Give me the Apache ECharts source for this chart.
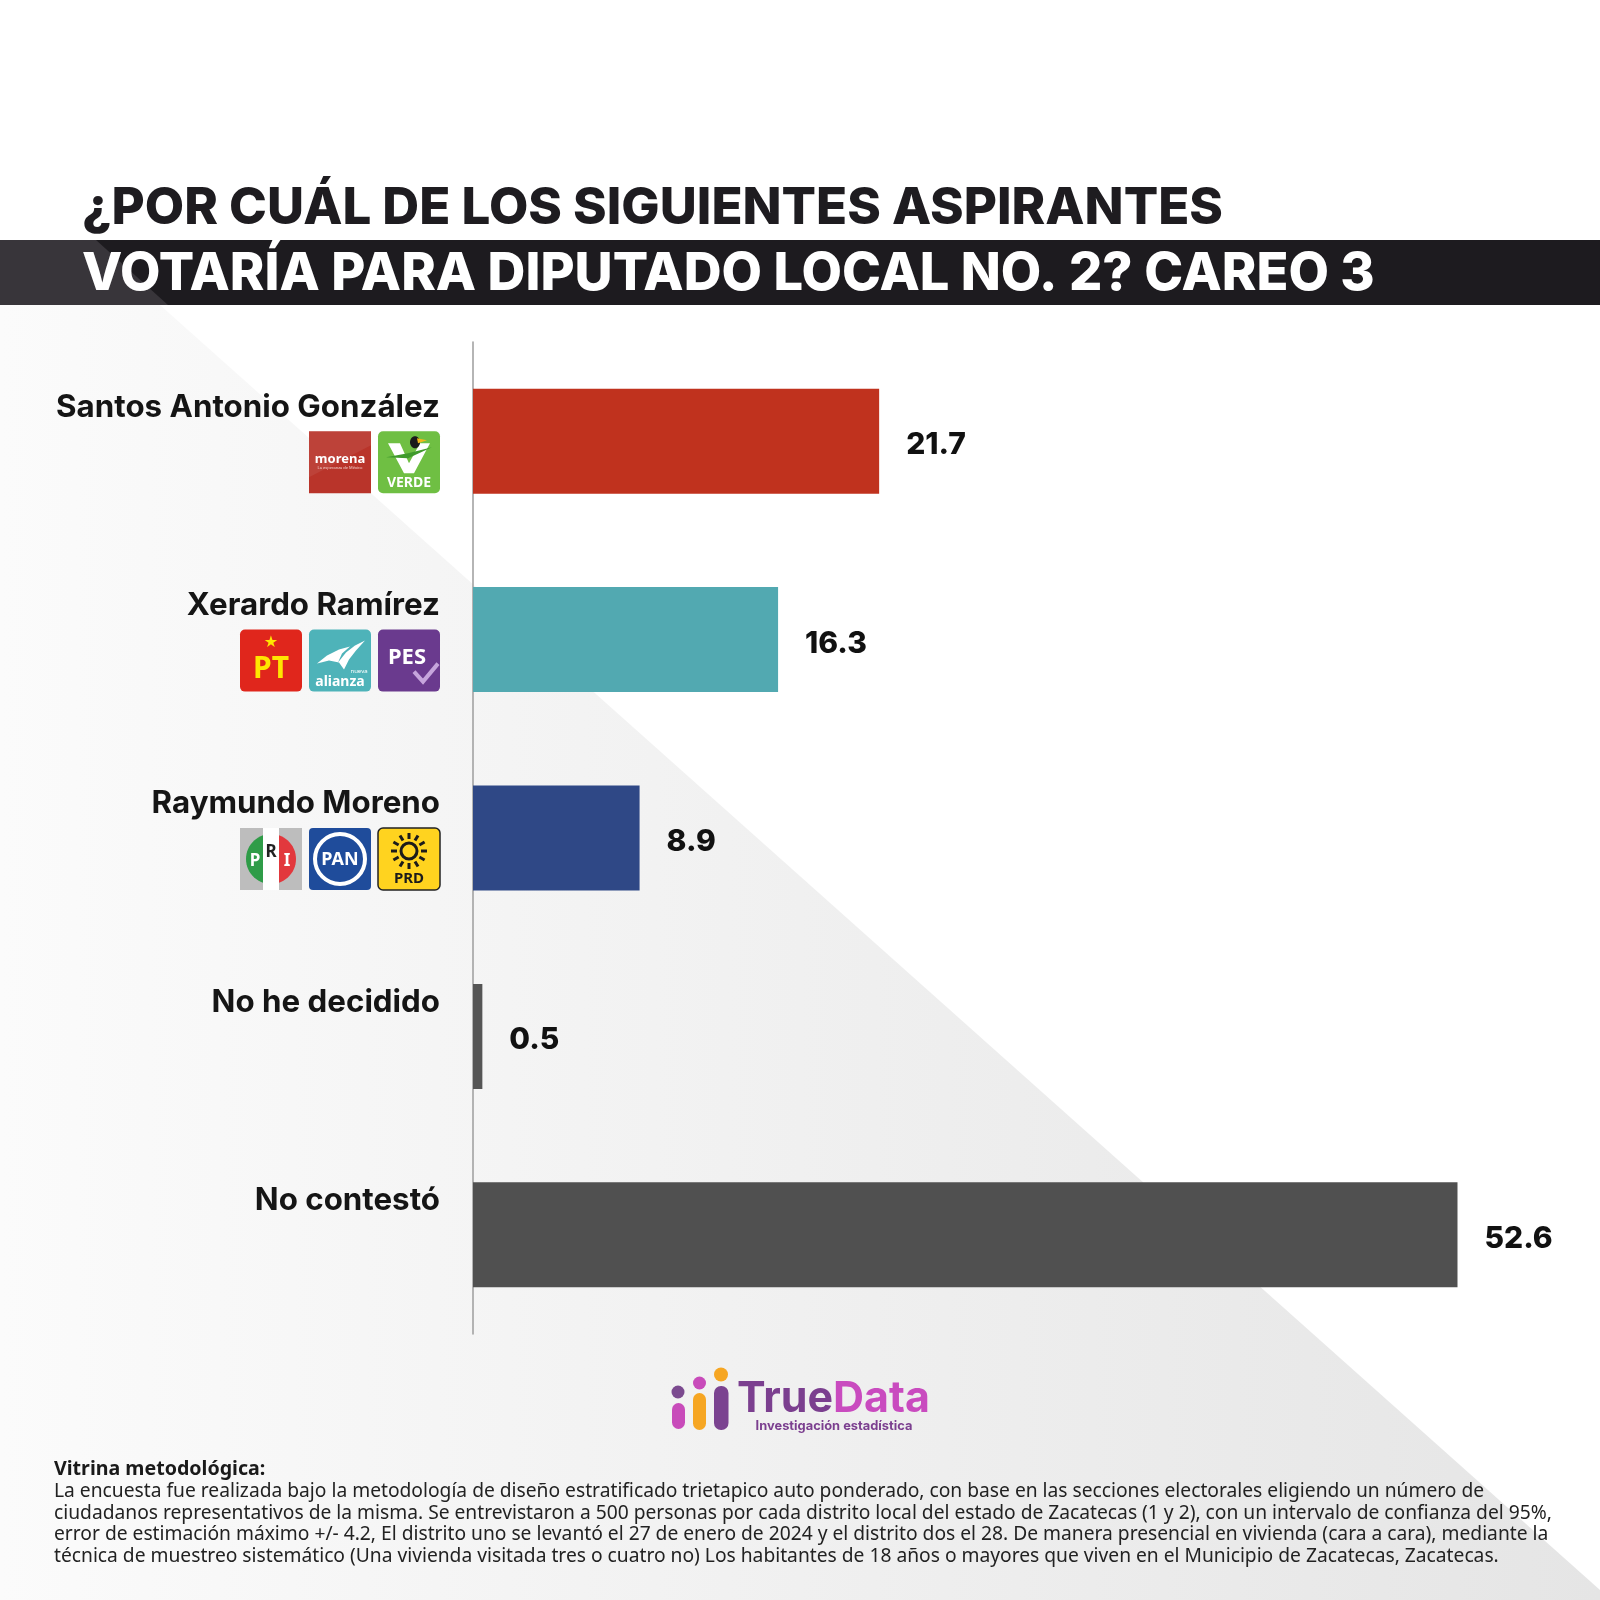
<!DOCTYPE html>
<html><head><meta charset="utf-8">
<script src="https://cdn.jsdelivr.net/npm/echarts/dist/echarts.min.js"></script>
<style>html,body{margin:0;padding:0;background:#fff}#c{width:1600px;height:1600px}</style>
</head><body><div id="c"></div>
<script>
// ---------- data ----------
const titleLines = ['¿POR CUÁL DE LOS SIGUIENTES ASPIRANTES', 'VOTARÍA PARA DIPUTADO LOCAL NO. 2? CAREO 3'];
const categories = ['Santos Antonio González', 'Xerardo Ramírez', 'Raymundo Moreno', 'No he decidido', 'No contestó'];
const values = [21.7, 16.3, 8.9, 0.5, 52.6];
const barColors = ['#c0321e', '#52a9b1', '#2f4886', '#555555', '#505050'];
const parties = [['morena', 'verde'], ['pt', 'alianza', 'pes'], ['pri', 'pan', 'prd'], [], []];
const brandA = 'True', brandB = 'Data', brandSub = 'Investigación estadística';
const footerTitle = 'Vitrina metodológica:';
const footerLines = [
  'La encuesta fue realizada bajo la metodología de diseño estratificado trietapico auto ponderado, con base en las secciones electorales eligiendo un número de',
  'ciudadanos representativos de la misma. Se entrevistaron a 500 personas por cada distrito local del estado de Zacatecas (1 y 2), con un intervalo de confianza del 95%,',
  'error de estimación máximo +/- 4.2, El distrito uno se levantó el 27 de enero de 2024 y el distrito dos el 28. De manera presencial en vivienda (cara a cara), mediante la',
  'técnica de muestreo sistemático (Una vivienda visitada tres o cuatro no) Los habitantes de 18 años o mayores que viven en el Municipio de Zacatecas, Zacatecas.'
];

// ---------- helpers ----------
const HEAD = 'Inter, "Noto Sans", sans-serif';
const BODY = '"Noto Sans", "Open Sans", sans-serif';
const mctx = document.createElement('canvas').getContext('2d');
function fit(text, weight, family, target) {
  mctx.font = weight + ' 100px ' + family;
  return 100 * target / mctx.measureText(text).width;
}
function txt(text, x, y, font, fill, align, extra) {
  return Object.assign({ type: 'text', silent: true, style: {
    text: text, x: x, y: y, font: font, fill: fill,
    align: align || 'left', textAlign: align || 'left',
    verticalAlign: 'middle', textVerticalAlign: 'middle'
  } }, extra || {});
}

const nameSize = fit(categories[0], 700, HEAD, 384);
const t1Size = fit(titleLines[0], 800, HEAD, 1141);
const t2Size = fit(titleLines[1], 800, HEAD, 1293);

const chart = echarts.init(document.getElementById('c'));
const option = {
  backgroundColor: '#ffffff',
  animation: false,
  grid: { left: 473, right: 4, top: 342, height: 992 },
  xAxis: { type: 'value', min: 0, max: 60, show: false },
  yAxis: {
    type: 'category', data: categories, inverse: true,
    axisTick: { show: false },
    axisLine: { show: true, lineStyle: { color: '#9c9c9c', width: 1.5 } },
    axisLabel: {
      interval: 0, margin: 33,
      formatter: function (v) { return '{n|' + v + '}\n{s| }'; },
      rich: {
        n: { fontSize: nameSize, fontWeight: 700, fontFamily: HEAD, color: '#151515', lineHeight: 36, align: 'right' },
        s: { height: 68, lineHeight: 68, fontSize: 10 }
      }
    }
  },
  series: [{
    type: 'bar', barWidth: 105,
    data: values.map(function (v, i) { return { value: v, itemStyle: { color: barColors[i] } }; }),
    label: { show: true, position: 'right', distance: 27, offset: [0, 4], fontSize: 30, fontWeight: 800, fontFamily: HEAD, color: '#111111' }
  }]
};
chart.setOption(option);

// ---------- logos ----------
function segPoints(side) {
  const pts = [], cx = 31, cy = 31, r = 25, d = 8;
  const a0 = Math.acos(d / r);
  for (let k = 0; k <= 24; k++) {
    const a = -a0 + (2 * a0) * k / 24;
    const xx = side === 'L' ? cx - r * Math.cos(a) : cx + r * Math.cos(a);
    pts.push([xx, cy + r * Math.sin(a)]);
  }
  return pts;
}
function makeLogo(kind, x, y) {
  const S = 62, ch = [];
  const rect = function (fill, r, extra) { return Object.assign({ type: 'rect', shape: { x: 0, y: 0, width: S, height: S, r: r }, style: { fill: fill } }, extra || {}); };
  if (kind === 'morena') {
    ch.push(rect('#b9342a', 0));
    ch.push({ type: 'polygon', shape: { points: [[0, 0], [62, 0], [62, 14], [0, 46]] }, style: { fill: 'rgba(255,255,255,0.07)' } });
    ch.push(txt('morena', 31, 28, 'bold 13px ' + BODY, '#ffffff', 'center'));
    ch.push(txt('La esperanza de México', 31, 37, '4px ' + BODY, '#f4d2cd', 'center'));
  } else if (kind === 'verde') {
    ch.push(rect('#6fbf43', 5));
    ch.push({ type: 'polygon', shape: { points: [[10, 12], [22, 12], [31, 32], [42, 12], [52, 12], [36, 42], [26, 42]] }, style: { fill: '#ffffff' } });
    ch.push({ type: 'polygon', shape: { points: [[8, 26], [30, 22], [54, 16], [30, 27]] }, style: { fill: '#3f9a2c' } });
    ch.push({ type: 'ellipse', shape: { cx: 37, cy: 11, rx: 5, ry: 6 }, style: { fill: '#1b1b1b' } });
    ch.push({ type: 'polygon', shape: { points: [[39, 7], [49, 9], [40, 12]] }, style: { fill: '#f2b81c' } });
    ch.push(txt('VERDE', 31, 52, 'bold 14px ' + BODY, '#ffffff', 'center'));
  } else if (kind === 'pt') {
    ch.push(rect('#e0261c', 5));
    ch.push(txt('★', 31, 13, '16px "DejaVu Sans"', '#ffe600', 'center'));
    ch.push(txt('PT', 31, 40, 'bold 30px ' + BODY, '#ffe600', 'center'));
  } else if (kind === 'alianza') {
    ch.push(rect('#4eb3b9', 5));
    ch.push({ type: 'polygon', shape: { points: [[8, 34], [18, 26], [30, 20], [41, 17], [33, 24], [29, 33], [37, 23], [46, 16], [56, 11], [47, 21], [40, 30], [35, 40], [30, 33], [20, 31]] }, style: { fill: '#ffffff' } });
    ch.push(txt('nueva', 50, 42, '6px ' + BODY, '#ffffff', 'center'));
    ch.push(txt('alianza', 31, 52, 'bold 14px ' + BODY, '#ffffff', 'center'));
  } else if (kind === 'pes') {
    ch.push(rect('#6a3a8e', 5));
    ch.push(txt('PES', 29, 28, 'bold 22px ' + BODY, '#ffffff', 'center'));
    ch.push({ type: 'polyline', shape: { points: [[36, 42], [45, 52], [60, 34]] }, style: { stroke: '#c6a5dc', lineWidth: 4, fill: null } });
  } else if (kind === 'pri') {
    ch.push(rect('#bdbdbd', 0));
    ch.push({ type: 'rect', shape: { x: 23, y: 0, width: 16, height: S }, style: { fill: '#ffffff' } });
    ch.push({ type: 'polygon', shape: { points: segPoints('L') }, style: { fill: '#2f9c48' } });
    ch.push({ type: 'polygon', shape: { points: segPoints('R') }, style: { fill: '#e2383d' } });
    ch.push(txt('P', 15, 33, 'bold 17px ' + BODY, '#ffffff', 'center'));
    ch.push(txt('R', 31, 24, 'bold 17px ' + BODY, '#222222', 'center'));
    ch.push(txt('I', 47, 33, 'bold 17px ' + BODY, '#ffffff', 'center'));
  } else if (kind === 'pan') {
    ch.push(rect('#1f4c9b', 4));
    ch.push({ type: 'circle', shape: { cx: 31, cy: 31, r: 25 }, style: { fill: null, stroke: '#ffffff', lineWidth: 4 } });
    ch.push(txt('PAN', 31, 32, 'bold 18px "Liberation Sans Narrow", ' + BODY, '#ffffff', 'center'));
  } else if (kind === 'prd') {
    ch.push(rect('#ffd31f', 5, { style: { fill: '#ffd31f', stroke: '#222222', lineWidth: 1.5 } }));
    ch.push({ type: 'circle', shape: { cx: 31, cy: 23, r: 8 }, style: { fill: null, stroke: '#1b1b1b', lineWidth: 3 } });
    for (let k = 0; k < 12; k++) {
      const a = k * Math.PI / 6;
      ch.push({ type: 'line', shape: { x1: 31 + 12 * Math.cos(a), y1: 23 + 12 * Math.sin(a), x2: 31 + 18 * Math.cos(a), y2: 23 + 18 * Math.sin(a) }, style: { stroke: '#1b1b1b', lineWidth: 3 } });
    }
    ch.push(txt('PRD', 31, 51, 'bold 15px ' + BODY, '#1b1b1b', 'center'));
  }
  return { type: 'group', x: x, y: y, silent: true, children: ch };
}

const logos = [];
parties.forEach(function (list, i) {
  const cy = chart.convertToPixel({ yAxisIndex: 0 }, categories[i]);
  let xr = 440;
  for (let k = list.length - 1; k >= 0; k--) {
    const x = xr - 62;
    logos.push(makeLogo(list[k], x, cy - 10));
    xr = x - 7;
  }
});

// ---------- background & title ----------
const bg = [
  { type: 'polygon', z: -10, silent: true, shape: { points: [[0, 305], [160, 305], [1600, 1590], [1600, 1600], [0, 1600]] },
    style: { fill: new echarts.graphic.LinearGradient(0, 0, 1, 0, [{ offset: 0, color: '#fbfbfb' }, { offset: 1, color: '#e5e5e5' }]) } },
  { type: 'rect', z: -9, silent: true, shape: { x: 0, y: 240, width: 1600, height: 65 }, style: { fill: '#1d1b1f' } },
  { type: 'polygon', z: -8, silent: true, shape: { points: [[0, 240], [96, 240], [168, 305], [0, 305]] }, style: { fill: '#38353a' } }
];
const titles = [
  txt(titleLines[0], 82, 209, '800 ' + t1Size + 'px ' + HEAD, '#1e1c20', 'left'),
  txt(titleLines[1], 82, 274, '800 ' + t2Size + 'px ' + HEAD, '#ffffff', 'left')
];

// ---------- brand ----------
const brandSize = fit(brandA + brandB, 700, HEAD, 193);
const subSize = fit(brandSub, 700, HEAD, 157);
const brand = [
  { type: 'circle', silent: true, shape: { cx: 678, cy: 1392, r: 6.5 }, style: { fill: '#7b4a8f' } },
  { type: 'rect', silent: true, shape: { x: 672, y: 1403, width: 13, height: 26, r: 6.5 }, style: { fill: '#c84bba' } },
  { type: 'circle', silent: true, shape: { cx: 699.5, cy: 1383, r: 6.5 }, style: { fill: '#c84bba' } },
  { type: 'rect', silent: true, shape: { x: 693, y: 1393, width: 13, height: 37, r: 6.5 }, style: { fill: '#f6a623' } },
  { type: 'circle', silent: true, shape: { cx: 721, cy: 1374.5, r: 7 }, style: { fill: '#f6a623' } },
  { type: 'rect', silent: true, shape: { x: 714, y: 1386, width: 14.5, height: 44, r: 7 }, style: { fill: '#7b4390' } },
  { type: 'text', silent: true, style: {
      text: '{a|' + brandA + '}{b|' + brandB + '}', x: 737, y: 1399,
      verticalAlign: 'middle', textVerticalAlign: 'middle', align: 'left', textAlign: 'left',
      rich: {
        a: { fontSize: brandSize, fontWeight: 700, fontFamily: HEAD, fill: '#7b3f8f', color: '#7b3f8f' },
        b: { fontSize: brandSize, fontWeight: 700, fontFamily: HEAD, fill: '#c94bbf', color: '#c94bbf' }
      } } },
  txt(brandSub, 834, 1426, '700 ' + subSize + 'px ' + HEAD, '#7b3f8f', 'center')
];

// ---------- footer ----------
let fSize = 100;
for (let i = 0; i < 3; i++) fSize = Math.min(fSize, fit(footerLines[i], 400, BODY, 1499));
const footer = [txt(footerTitle, 54, 1469, '700 ' + (fSize * 1.02) + 'px ' + BODY, '#1a1a1a', 'left')];
const fy = [1492, 1514, 1535, 1557];
footerLines.forEach(function (l, i) { footer.push(txt(l, 54, fy[i], '400 ' + fSize + 'px ' + BODY, '#222222', 'left')); });

chart.setOption({ graphic: { elements: [].concat(bg, titles, logos, brand, footer) } });
</script>
</body></html>
